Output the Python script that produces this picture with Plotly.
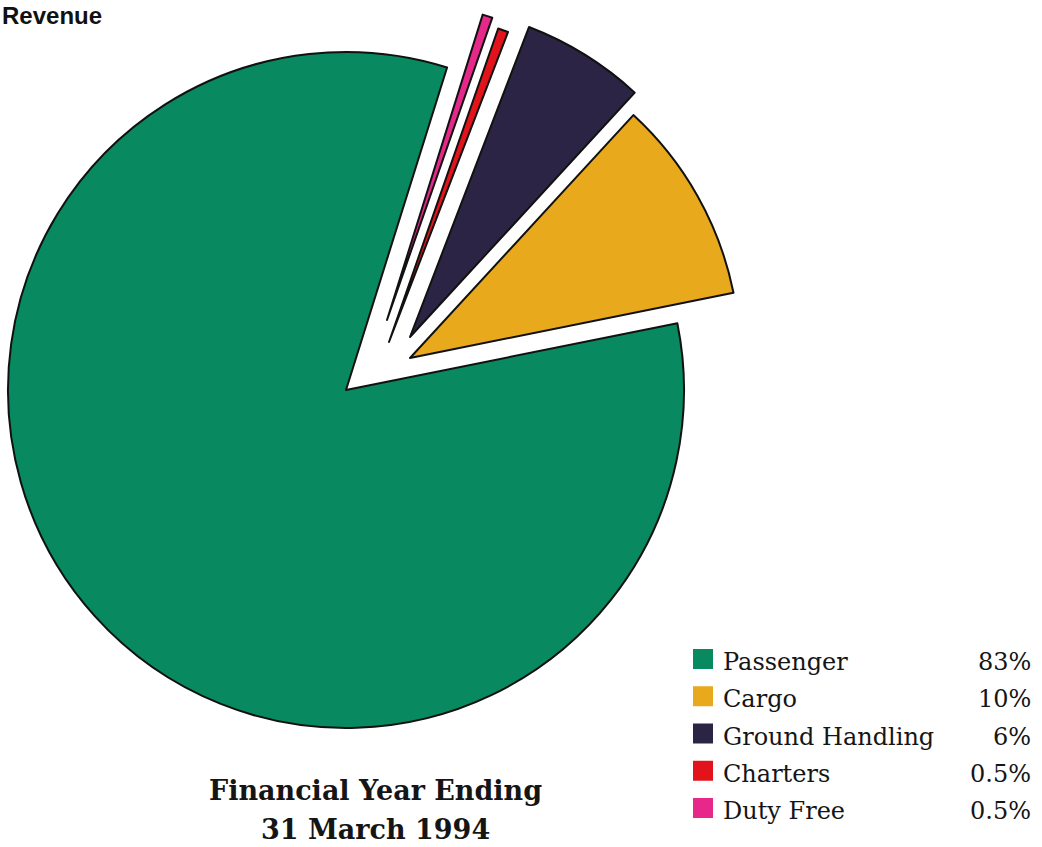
import plotly.graph_objects as go

# Revenue split, financial year ending 31 March 1994
categories = ["Passenger", "Cargo", "Ground Handling", "Charters", "Duty Free"]
shares = [83, 10, 6, 0.5, 0.5]
share_labels = ["83%", "10%", "6%", "0.5%", "0.5%"]

colors = ["#08895f", "#e9a91c", "#2c2444", "#e3131c", "#e5288a"]

W, H = 1042, 847

# Pie geometry in pixels: centre of each wedge's apex and its radius.
# Passenger stays in place, the smaller wedges are pulled out.
apex = {
    "Passenger": (346, 390),
    "Cargo": (410, 358),
    "Ground Handling": (410, 337),
    "Charters": (389, 342),
    "Duty Free": (387, 320),
}
radius = {
    "Passenger": 338,
    "Cargo": 330,
    "Ground Handling": 332,
    "Charters": 332,
    "Duty Free": 320,
}

# Clockwise drawing order around the pie
pie_order = ["Passenger", "Duty Free", "Charters", "Ground Handling", "Cargo"]
pie_values = [shares[categories.index(c)] for c in pie_order]
others = sum(pie_values[1:]) / sum(pie_values) * 360.0
rotation = 48 + others / 2  # exploded group centred on 48 degrees


def domain_for(name):
    cx, cy = apex[name]
    r = radius[name]
    return dict(
        x=[(cx - r) / W, (cx + r) / W],
        y=[1 - (cy + r) / H, 1 - (cy - r) / H],
    )


fig = go.Figure()
for name in pie_order:
    seg_colors = []
    seg_widths = []
    for c in pie_order:
        if c == name:
            seg_colors.append(colors[categories.index(c)])
            seg_widths.append(2)
        else:
            seg_colors.append("rgba(0,0,0,0)")
            seg_widths.append(0)
    fig.add_trace(go.Pie(
        labels=pie_order,
        values=pie_values,
        sort=False,
        direction="clockwise",
        rotation=rotation,
        domain=domain_for(name),
        marker=dict(colors=seg_colors, line=dict(color="#111111", width=seg_widths)),
        textinfo="none",
        hoverinfo="skip",
        showlegend=False,
    ))


def py(y):
    return 1 - y / H


annotations = []
shapes = []

# Title in the top-left corner
annotations.append(dict(
    text="<b>Revenue</b>", x=0, y=1, xref="paper", yref="paper",
    xanchor="left", yanchor="top", showarrow=False,
    font=dict(family="Liberation Sans", size=24, color="#111111"),
))

# Caption under the pie
cap_font = dict(family="DejaVu Serif", size=27, color="#151515")
annotations.append(dict(
    text="<b>Financial Year Ending</b>", x=375 / W, y=py(790), xref="paper", yref="paper",
    xanchor="center", yanchor="middle", showarrow=False, font=cap_font,
))
annotations.append(dict(
    text="<b>31 March 1994</b>", x=375 / W, y=py(829), xref="paper", yref="paper",
    xanchor="center", yanchor="middle", showarrow=False, font=cap_font,
))

# Legend with right-aligned shares
leg_font = dict(family="DejaVu Serif", size=24, color="#151515")
row0, row_step = 671, 37.25
for i, (cat, lab) in enumerate(zip(categories, share_labels)):
    base = row0 + i * row_step
    shapes.append(dict(
        type="rect", xref="paper", yref="paper",
        x0=693 / W, x1=713 / W, y0=py(base - 2), y1=py(base - 22),
        fillcolor=colors[i], line=dict(width=0),
    ))
    annotations.append(dict(
        text=cat, x=721 / W, y=py(base - 9), xref="paper", yref="paper",
        xanchor="left", yanchor="middle", showarrow=False, font=leg_font,
    ))
    annotations.append(dict(
        text=lab, x=1033 / W, y=py(base - 9), xref="paper", yref="paper",
        xanchor="right", yanchor="middle", showarrow=False, font=leg_font,
    ))

fig.update_layout(
    width=W, height=H, autosize=False,
    margin=dict(l=0, r=0, t=0, b=0),
    paper_bgcolor="white", plot_bgcolor="white",
    annotations=annotations, shapes=shapes,
    showlegend=False,
)

fig.write_html("out.html")
